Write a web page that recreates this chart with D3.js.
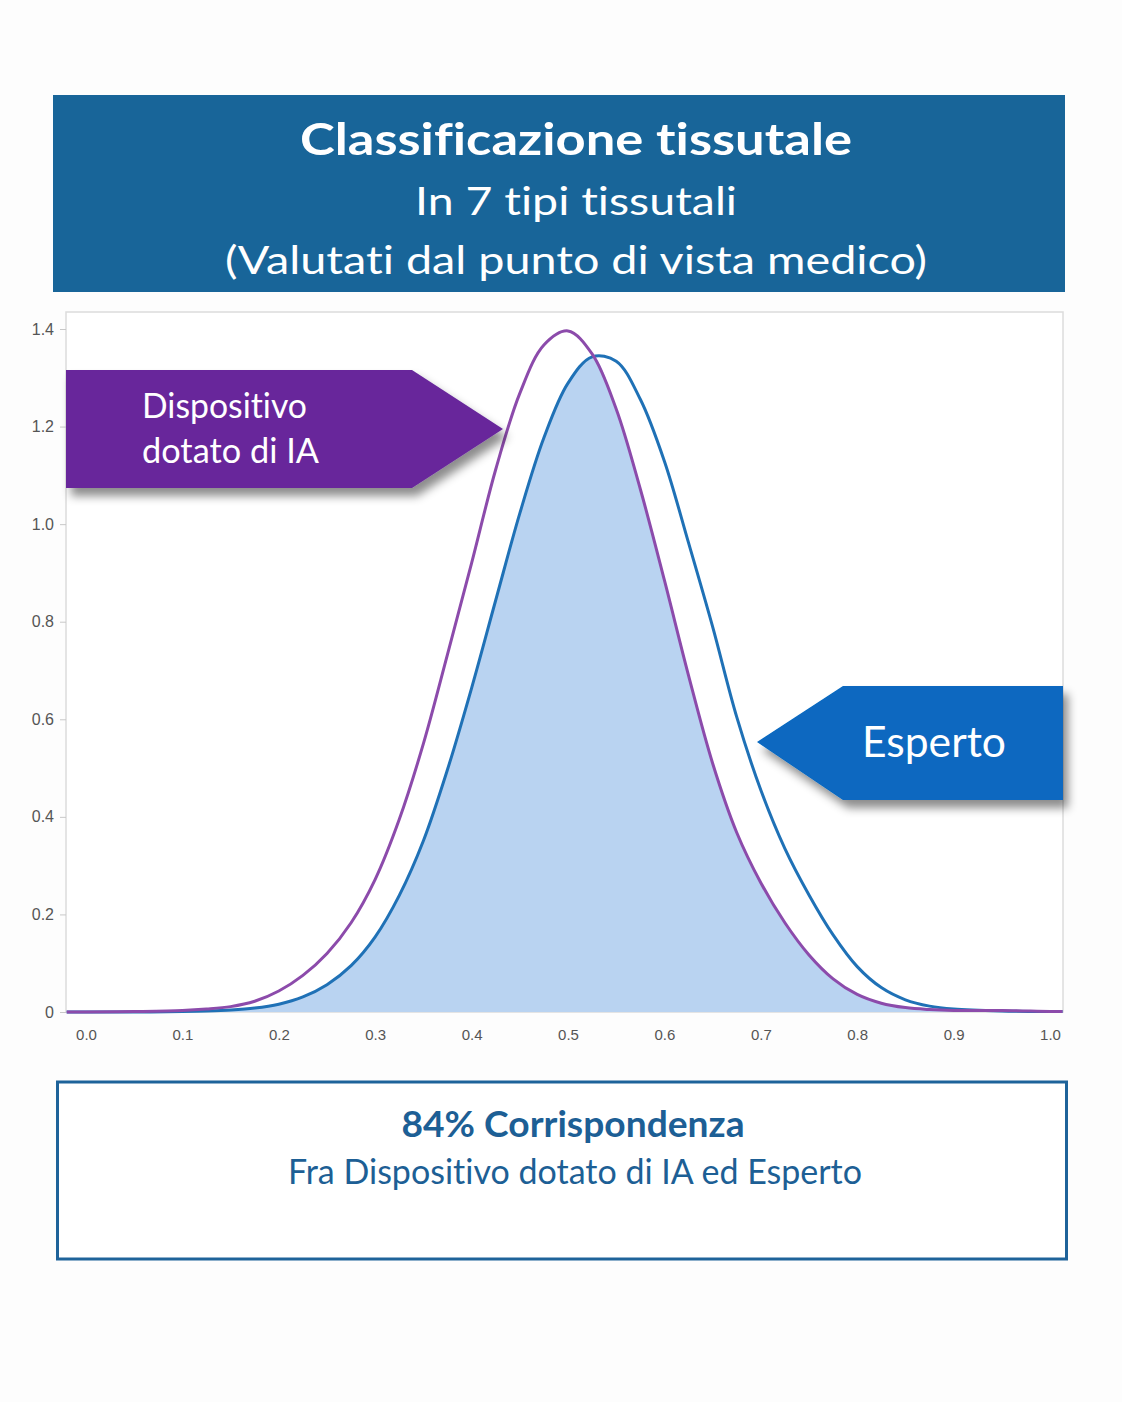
<!DOCTYPE html>
<html><head><meta charset="utf-8">
<script src="https://cdn.jsdelivr.net/npm/d3@7"></script>
<style>body{margin:0;background:#fff} text{font-variant-ligatures:none;font-feature-settings:"liga" 0,"clig" 0}</style>
</head><body>
<script>
// ---- data ----
const xValues = [-0.02, 0, 0.05, 0.1,
  0.125, 0.15, 0.175, 0.2, 0.225, 0.25, 0.275, 0.3, 0.325, 0.35,
  0.375, 0.4, 0.425, 0.45, 0.475, 0.5, 0.525, 0.55, 0.575, 0.6,
  0.625, 0.65, 0.675, 0.7, 0.725, 0.75, 0.775, 0.8, 0.825, 0.85,
  0.875, 0.9, 0.95, 1.0, 1.013];
const aiValues = [0, 0, 0.001, 0.003,
  0.006, 0.011, 0.022, 0.043, 0.075, 0.12, 0.183, 0.272, 0.395, 0.55,
  0.733, 0.92, 1.112, 1.268, 1.367, 1.396, 1.349, 1.236, 1.072, 0.885,
  0.69, 0.51, 0.368, 0.265, 0.183, 0.117, 0.068, 0.036, 0.018, 0.009,
  0.005, 0.003, 0.003, 0.001, 0.001];
const expertValues = [0, 0, 0, 0.001,
  0.002, 0.004, 0.008, 0.016, 0.031, 0.056, 0.095, 0.154, 0.239, 0.351,
  0.497, 0.664, 0.844, 1.022, 1.177, 1.289, 1.343, 1.334, 1.256, 1.129,
  0.962, 0.79, 0.605, 0.455, 0.335, 0.24, 0.158, 0.093, 0.05, 0.025,
  0.012, 0.006, 0.002, 0.001, 0.001];
const xTicks = [0, 0.1, 0.2, 0.3, 0.4, 0.5, 0.6, 0.7, 0.8, 0.9, 1.0];
const xTickLabels = ["0.0","0.1","0.2","0.3","0.4","0.5","0.6","0.7","0.8","0.9","1.0"];
const yTicks = [0, 0.2, 0.4, 0.6, 0.8, 1.0, 1.2, 1.4];
const yTickLabels = ["0","0.2","0.4","0.6","0.8","1.0","1.2","1.4"];
const titleLines = ["Classificazione tissutale", "In 7 tipi tissutali", "(Valutati dal punto di vista medico)"];
const aiLabel = ["Dispositivo", "dotato di IA"];
const expertLabel = "Esperto";
const footerLines = ["84% Corrispondenza", "Fra Dispositivo dotato di IA ed Esperto"];

// ---- drawing ----
const W = 1122, H = 1402;
const FONT = "Lato, 'Open Sans', sans-serif";
const svg = d3.select("body").append("svg").attr("width", W).attr("height", H)
  .style("display","block");
svg.append("rect").attr("width", W).attr("height", H).attr("fill", "#fdfdfd");

const defs = svg.append("defs");
const sh = defs.append("filter").attr("id","shadow").attr("x","-20%").attr("y","-20%")
  .attr("width","150%").attr("height","160%");
sh.append("feDropShadow").attr("dx",5).attr("dy",8).attr("stdDeviation",5)
  .attr("flood-color","#000").attr("flood-opacity",0.45);

// Title banner
svg.append("rect").attr("x",53).attr("y",95).attr("width",1012).attr("height",197).attr("fill","#186599");
const tl = [
  {t: titleLines[0], y: 155, size: 44, w: 552, weight: 700},
  {t: titleLines[1], y: 215, size: 39, w: 322, weight: 400},
  {t: titleLines[2], y: 274, size: 39, w: 702, weight: 400}
];
svg.selectAll("text.title").data(tl).join("text").attr("class","title")
  .attr("x", 576).attr("y", d => d.y).attr("text-anchor","middle")
  .attr("font-family", FONT).attr("font-size", d => d.size).attr("font-weight", d => d.weight)
  .attr("fill","#fff").attr("textLength", d => d.w).attr("lengthAdjust","spacingAndGlyphs")
  .text(d => d.t);

// Scales
const x = d3.scaleLinear().domain([0, 1]).range([86, 1050]);
const y = d3.scaleLinear().domain([0, 1.4]).range([1012, 329]);

// Plot frame
svg.append("rect").attr("x",66).attr("y",312).attr("width",997).attr("height",700)
  .attr("fill","#fff").attr("stroke","#dcdcdc").attr("stroke-width",1.5);

// Y axis
const yAxis = d3.axisLeft(y).tickValues(yTicks).tickFormat((d,i) => yTickLabels[i])
  .tickSize(6).tickPadding(6);
const gy = svg.append("g").attr("transform","translate(66,0)").call(yAxis);
gy.select(".domain").remove();
gy.selectAll("line").attr("stroke","#c8c8c8");
gy.selectAll("text").attr("font-family","'Liberation Sans', Arial, sans-serif")
  .attr("font-size",16).attr("fill","#555");

// X axis
const xAxis = d3.axisBottom(x).tickValues(xTicks).tickFormat((d,i) => xTickLabels[i])
  .tickSize(0).tickPadding(17);
const gx = svg.append("g").attr("transform","translate(0,1012)").call(xAxis);
gx.select(".domain").remove();
gx.selectAll("text").attr("font-family","'Liberation Sans Narrow', 'Liberation Sans', Arial, sans-serif")
  .attr("font-size",15).attr("fill","#555");

// Data rows
const rows = xValues.map((v,i) => ({x: v, ai: aiValues[i], ex: expertValues[i]}));
const curve = d3.curveCatmullRom.alpha(0.5);

// Overlap fill
const area = d3.area().x(d => x(d.x)).y0(y(0)).y1(d => y(Math.min(d.ai, d.ex))).curve(curve);
svg.append("path").datum(rows).attr("d", area).attr("fill","#b9d3f1");

const lineAI = d3.line().x(d => x(d.x)).y(d => y(d.ai)).curve(curve);
const lineEx = d3.line().x(d => x(d.x)).y(d => y(d.ex)).curve(curve);
svg.append("path").datum(rows).attr("d", lineEx).attr("fill","none")
  .attr("stroke","#1f71b6").attr("stroke-width",3);
svg.append("path").datum(rows).attr("d", lineAI).attr("fill","none")
  .attr("stroke","#8c4bab").attr("stroke-width",3);

// Callouts
svg.append("path").attr("d","M66,370 L412,370 L503,429 L412,488 L66,488 Z")
  .attr("fill","#67289b").attr("filter","url(#shadow)");
svg.append("text").attr("x",142).attr("y",418).attr("font-family",FONT).attr("font-size",34)
  .attr("fill","#fff").attr("textLength",165).attr("lengthAdjust","spacingAndGlyphs").text(aiLabel[0]);
svg.append("text").attr("x",142).attr("y",463).attr("font-family",FONT).attr("font-size",34)
  .attr("fill","#fff").attr("textLength",177).attr("lengthAdjust","spacingAndGlyphs").text(aiLabel[1]);

svg.append("path").attr("d","M1063,686 L843,686 L757,742 L843,800 L1063,800 Z")
  .attr("fill","#0767c0").attr("filter","url(#shadow)");
svg.append("text").attr("x",862).attr("y",757).attr("font-family",FONT).attr("font-size",42)
  .attr("fill","#fff").attr("textLength",144).attr("lengthAdjust","spacingAndGlyphs").text(expertLabel);

// Footer box
svg.append("rect").attr("x",57.5).attr("y",1082).attr("width",1009).attr("height",177)
  .attr("fill","#fff").attr("stroke","#1e639a").attr("stroke-width",3);
svg.append("text").attr("x",573).attr("y",1137).attr("text-anchor","middle")
  .attr("font-family",FONT).attr("font-size",36).attr("font-weight",700).attr("fill","#1d5f95")
  .attr("textLength",343).attr("lengthAdjust","spacingAndGlyphs").text(footerLines[0]);
svg.append("text").attr("x",575).attr("y",1184).attr("text-anchor","middle")
  .attr("font-family",FONT).attr("font-size",34).attr("fill","#1d5f95")
  .attr("textLength",574).attr("lengthAdjust","spacingAndGlyphs").text(footerLines[1]);
</script>
</body></html>
